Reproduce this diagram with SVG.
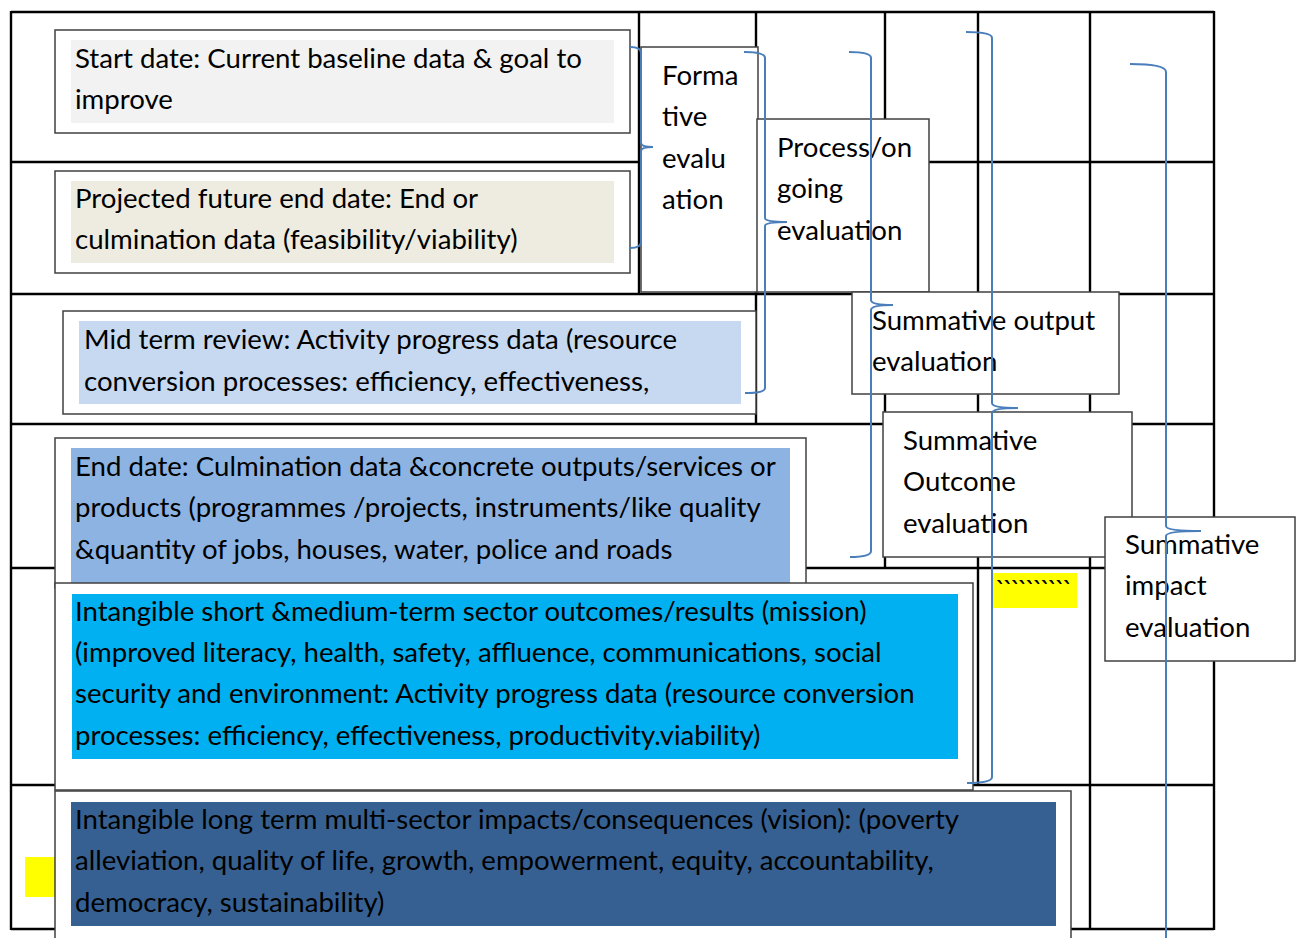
<svg xmlns="http://www.w3.org/2000/svg" width="1300" height="938" viewBox="0 0 1300 938">
<style>
.grid line{stroke:#000;stroke-width:2.4}
.box{fill:#fff;stroke:#404040;stroke-width:1.5}
text{font-family:Lato,"Liberation Sans",sans-serif;font-size:27.6px;fill:#000}
.br{fill:none;stroke:#4A7EBB;stroke-width:2}
</style>
<rect x="0" y="0" width="1300" height="938" fill="#fff"/>
<g class="grid" id="table">
<line x1="11" y1="12" x2="1214" y2="12"/>
<line x1="11" y1="162" x2="1214" y2="162"/>
<line x1="11" y1="294" x2="1214" y2="294"/>
<line x1="11" y1="424" x2="1214" y2="424"/>
<line x1="11" y1="568" x2="1214" y2="568"/>
<line x1="11" y1="785" x2="1214" y2="785"/>
<line x1="11" y1="929" x2="1214" y2="929"/>
<line x1="11" y1="11" x2="11" y2="930"/>
<line x1="1214" y1="11" x2="1214" y2="930"/>
<line x1="639" y1="12" x2="639" y2="294"/>
<line x1="756" y1="12" x2="756" y2="424"/>
<line x1="885" y1="12" x2="885" y2="568"/>
<line x1="978" y1="12" x2="978" y2="785"/>
<line x1="1090" y1="12" x2="1090" y2="929"/>
</g>
<rect x="25" y="857" width="31" height="40" fill="#FFFF00"/>
<g id="start">
<rect class="box" x="55" y="30" width="575" height="103"/>
<rect x="71" y="40" width="543" height="83" fill="#F2F2F2"/>
<text x="75" y="68">Start date: Current baseline data &amp; goal to</text>
<text x="75" y="109">improve</text>
</g>
<g id="projected">
<rect class="box" x="55" y="171" width="575" height="102"/>
<rect x="71" y="181" width="543" height="82" fill="#EEECE1"/>
<text x="75" y="208">Projected future end date: End or</text>
<text x="75" y="249">culmination data (feasibility/viability)</text>
</g>
<g id="midterm">
<rect class="box" x="63" y="311" width="693" height="103"/>
<rect x="79" y="321" width="662" height="83" fill="#C6D9F1"/>
<text x="84" y="349">Mid term review: Activity progress data (resource</text>
<text x="84" y="391">conversion processes: efficiency, effectiveness,</text>
</g>
<g id="enddate">
<rect class="box" x="55" y="438" width="751" height="150"/>
<rect x="71" y="448" width="719" height="140" fill="#8DB3E2"/>
<text x="75" y="476">End date: Culmination data &amp;concrete outputs/services or</text>
<text x="75" y="517">products (programmes /projects, instruments/like quality</text>
<text x="75" y="559">&amp;quantity of jobs, houses, water, police and roads</text>
</g>
<g id="shortterm">
<rect class="box" x="55" y="583" width="918" height="207"/>
<rect x="72" y="594" width="886" height="165" fill="#00B0F0"/>
<text x="75" y="621">Intangible short &amp;medium-term sector outcomes/results (mission)</text>
<text x="75" y="662">(improved literacy, health, safety, affluence, communications, social</text>
<text x="75" y="703">security and environment: Activity progress data (resource conversion</text>
<text x="75" y="745">processes: efficiency, effectiveness, productivity.viability)</text>
</g>
<g id="longterm">
<rect class="box" x="55" y="791" width="1016" height="160"/>
<rect x="71" y="802" width="985" height="124" fill="#376092"/>
<text x="75" y="829">Intangible long term multi-sector impacts/consequences (vision): (poverty</text>
<text x="75" y="870">alleviation, quality of life, growth, empowerment, equity, accountability,</text>
<text x="75" y="912">democracy, sustainability)</text>
</g>
<g id="formative">
<rect class="box" x="641" y="47" width="117" height="245"/>
<text x="662" y="85">Forma</text>
<text x="662" y="126">tive</text>
<text x="662" y="168">evalu</text>
<text x="662" y="209">ation</text>
</g>
<g id="process">
<rect class="box" x="757" y="119" width="172" height="173"/>
<text x="777" y="157">Process/on</text>
<text x="777" y="198">going</text>
<text x="777" y="240">evaluation</text>
</g>
<g id="output">
<rect class="box" x="852" y="292" width="267" height="102"/>
<text x="872" y="330">Summative output</text>
<text x="872" y="371">evaluation</text>
</g>
<g id="outcome">
<rect class="box" x="883" y="412" width="249" height="145"/>
<text x="903" y="450">Summative</text>
<text x="903" y="491">Outcome</text>
<text x="903" y="533">evaluation</text>
</g>
<g id="yellow">
<rect x="993" y="573" width="84" height="35" fill="#FFFF00"/>
<text x="995" y="600" textLength="78" lengthAdjust="spacing">``````````</text>
</g>
<g id="impact">
<rect class="box" x="1105" y="517" width="190" height="144"/>
<text x="1125" y="554">Summative</text>
<text x="1125" y="595">impact</text>
<text x="1125" y="637">evaluation</text>
</g>
<g id="connectors">
<path class="br" d="M630,47 Q641,47 641,53 L641,143 Q641,147 653,147 Q641,147 641,151 L641,242 Q641,248 630,248"/>
<path class="br" d="M744,52 Q765,52 765,58 L765,218 Q765,222 787,222 Q765,222 765,226 L765,388 Q765,393 745,393"/>
<path class="br" d="M849,52 Q871,52 871,58 L871,300 Q871,305 893,305 Q871,305 871,310 L871,551 Q871,557 850,557"/>
<path class="br" d="M966,32 Q992,32 992,38 L992,403 Q992,408 1018,408 Q992,408 992,413 L992,777 Q992,783 967,783"/>
<path class="br" d="M1130,64 Q1166,64 1166,72 L1166,526 Q1166,531 1201,531 Q1166,531 1166,536 L1166,940"/>
</g>
</svg>
